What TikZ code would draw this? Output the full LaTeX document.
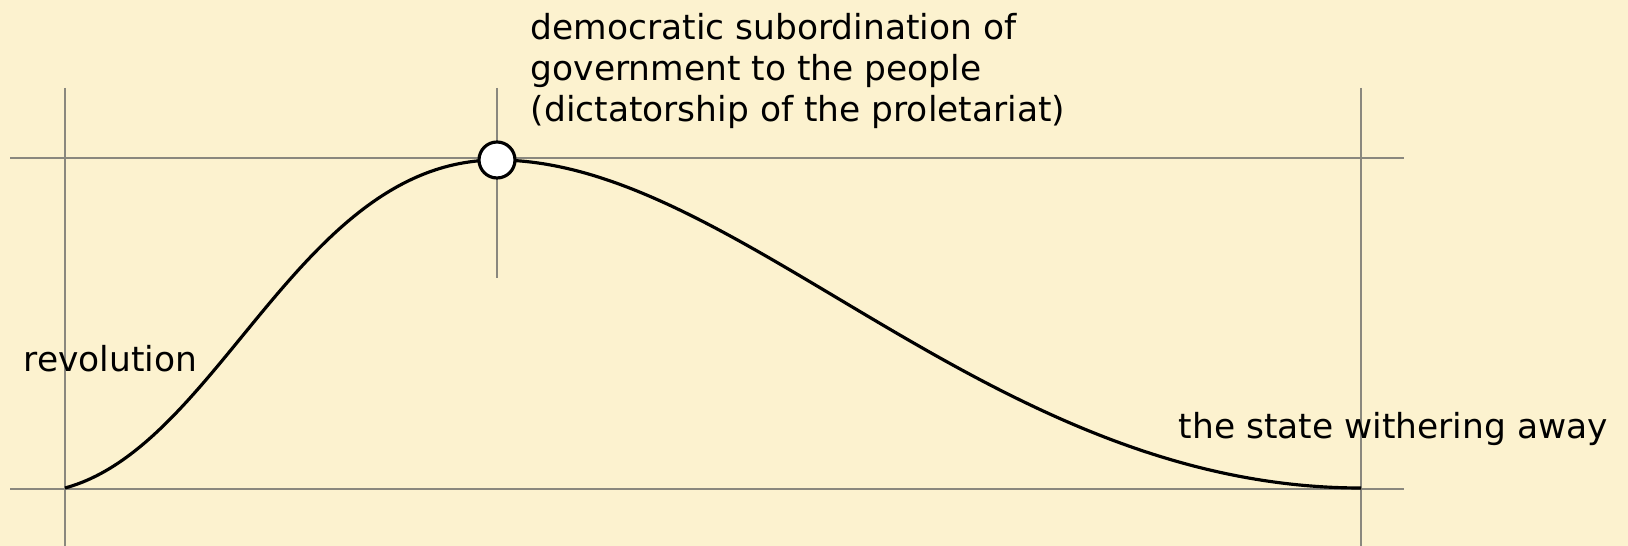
\documentclass[tikz,border=0pt]{standalone}
\usepackage{fontspec}
\setmainfont{DejaVu Sans}
\definecolor{paper}{RGB}{252,242,207}
\definecolor{gridgray}{RGB}{138,136,126}
\begin{document}
\begin{tikzpicture}[every node/.style={font=\fontsize{9.8}{11.8}\selectfont, inner sep=0pt},
  guide/.style={draw=gridgray, line width=0.7pt},
  curve/.style={draw=black, line width=0.9pt},
  peakdot/.style={circle, draw=black, fill=white, line width=0.9pt, minimum size=0.36cm}]
  % paper
  \fill[paper] (0,0) rectangle (16.28,5.46);
  \useasboundingbox (0,0) rectangle (16.28,5.46);
  % guide lines
  \draw[guide] (0.10,3.88) -- (14.04,3.88);
  \draw[guide] (0.10,0.57) -- (14.04,0.57);
  \draw[guide] (0.65,4.58) -- (0.65,0);
  \draw[guide] (13.61,4.58) -- (13.61,0);
  \draw[guide] (4.97,4.58) -- (4.97,2.68);
  % curve
  \coordinate (start) at (0.65,0.58);
  \coordinate (top) at (4.97,3.86);
  \coordinate (finish) at (13.61,0.58);
  \draw[curve] (start) .. controls (2.2,1.0) and (3.0,3.86) .. (top)
    .. controls (7.4,3.86) and (9.9,0.58) .. (finish);
  \node[peakdot] (peak) at (top) {};
  % labels
  \node[anchor=base west, align=left] (dict) at (5.30,4.24) {democratic subordination of\\government to the people\\(dictatorship of the proletariat)};
  \node[anchor=base west] (rev) at (0.23,1.74) {revolution};
  \node[anchor=base west] (wither) at (11.78,1.07) {the state withering away};
\end{tikzpicture}
\end{document}
